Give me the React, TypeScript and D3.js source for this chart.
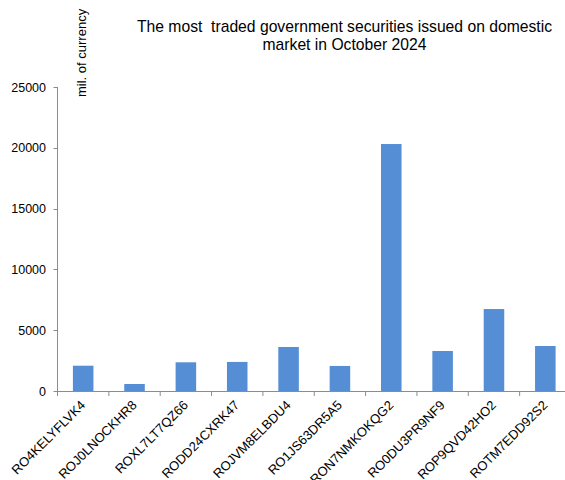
import React from "react";
import * as d3 from "d3";

const categories = [
  "RO4KELYFLVK4",
  "ROJ0LNOCKHR8",
  "ROXL7LT7QZ66",
  "RODD24CXRK47",
  "ROJVM8ELBDU4",
  "RO1JS63DR5A5",
  "RON7NMKOKQG2",
  "RO0DU3PR9NF9",
  "ROP9QVD42HO2",
  "ROTM7EDD92S2",
];
const values = [2080, 575, 2360, 2390, 3620, 2060, 20310, 3290, 6740, 3700];
const yTicks = [0, 5000, 10000, 15000, 20000, 25000];
const titleLines = ["The most  traded government securities issued on domestic", "market in October 2024"];
const yLabel = "mil. of currency";

const W = 565;
const H = 480;
const left = 57.5;
const right = 571;
const top = 87;
const bottom = 391;
const font = "Liberation Sans, Arial, sans-serif";
const axisColor = "#8c8c8c";

export default function App() {
  const x = d3.scaleBand<string>().domain(categories).range([left, right]).paddingInner(0).paddingOuter(0);
  const y = d3.scaleLinear().domain([0, 25000]).range([bottom, top]);
  const bw = x.bandwidth();
  const barW = bw * 0.4;
  return (
    <svg width={W} height={H} style={{ position: "absolute", left: 0, top: 0, background: "#fff" }} fontFamily={font}>
      {titleLines.map((t, i) => (
        <text key={i} x={344.5} y={32 + i * 18} textAnchor="middle" fontSize={15.7} fill="#000" style={{ whiteSpace: "pre" }}>
          {t}
        </text>
      ))}
      <text transform={`translate(86,97) rotate(-90)`} fontSize={13} fill="#000">
        {yLabel}
      </text>
      {categories.map((c, i) => (
        <rect key={c} x={x(c)! + (bw - barW) / 2} y={y(values[i])} width={barW} height={bottom - y(values[i])} fill="#558ed5" />
      ))}
      <line x1={left} x2={left} y1={top} y2={bottom} stroke={axisColor} strokeWidth={1} />
      {yTicks.map((t) => (
        <g key={t}>
          <line x1={left - 4} x2={left} y1={Math.round(y(t)) + 0.5} y2={Math.round(y(t)) + 0.5} stroke={axisColor} />
          <text x={46} y={y(t) + 4.5} textAnchor="end" fontSize={12.5} fill="#000">
            {t}
          </text>
        </g>
      ))}
      <line x1={left} x2={right} y1={bottom + 0.5} y2={bottom + 0.5} stroke={axisColor} strokeWidth={1} />
      {categories.map((c) => (
        <line key={c} x1={x(c)!} x2={x(c)!} y1={bottom} y2={bottom + 5} stroke={axisColor} />
      ))}
      {categories.map((c) => {
        const cx = x(c)! + bw / 2 + 3;
        return (
          <text key={c} transform={`translate(${cx},${bottom + 15}) rotate(-45)`} textAnchor="end" fontSize={13} fill="#000">
            {c}
          </text>
        );
      })}
    </svg>
  );
}
